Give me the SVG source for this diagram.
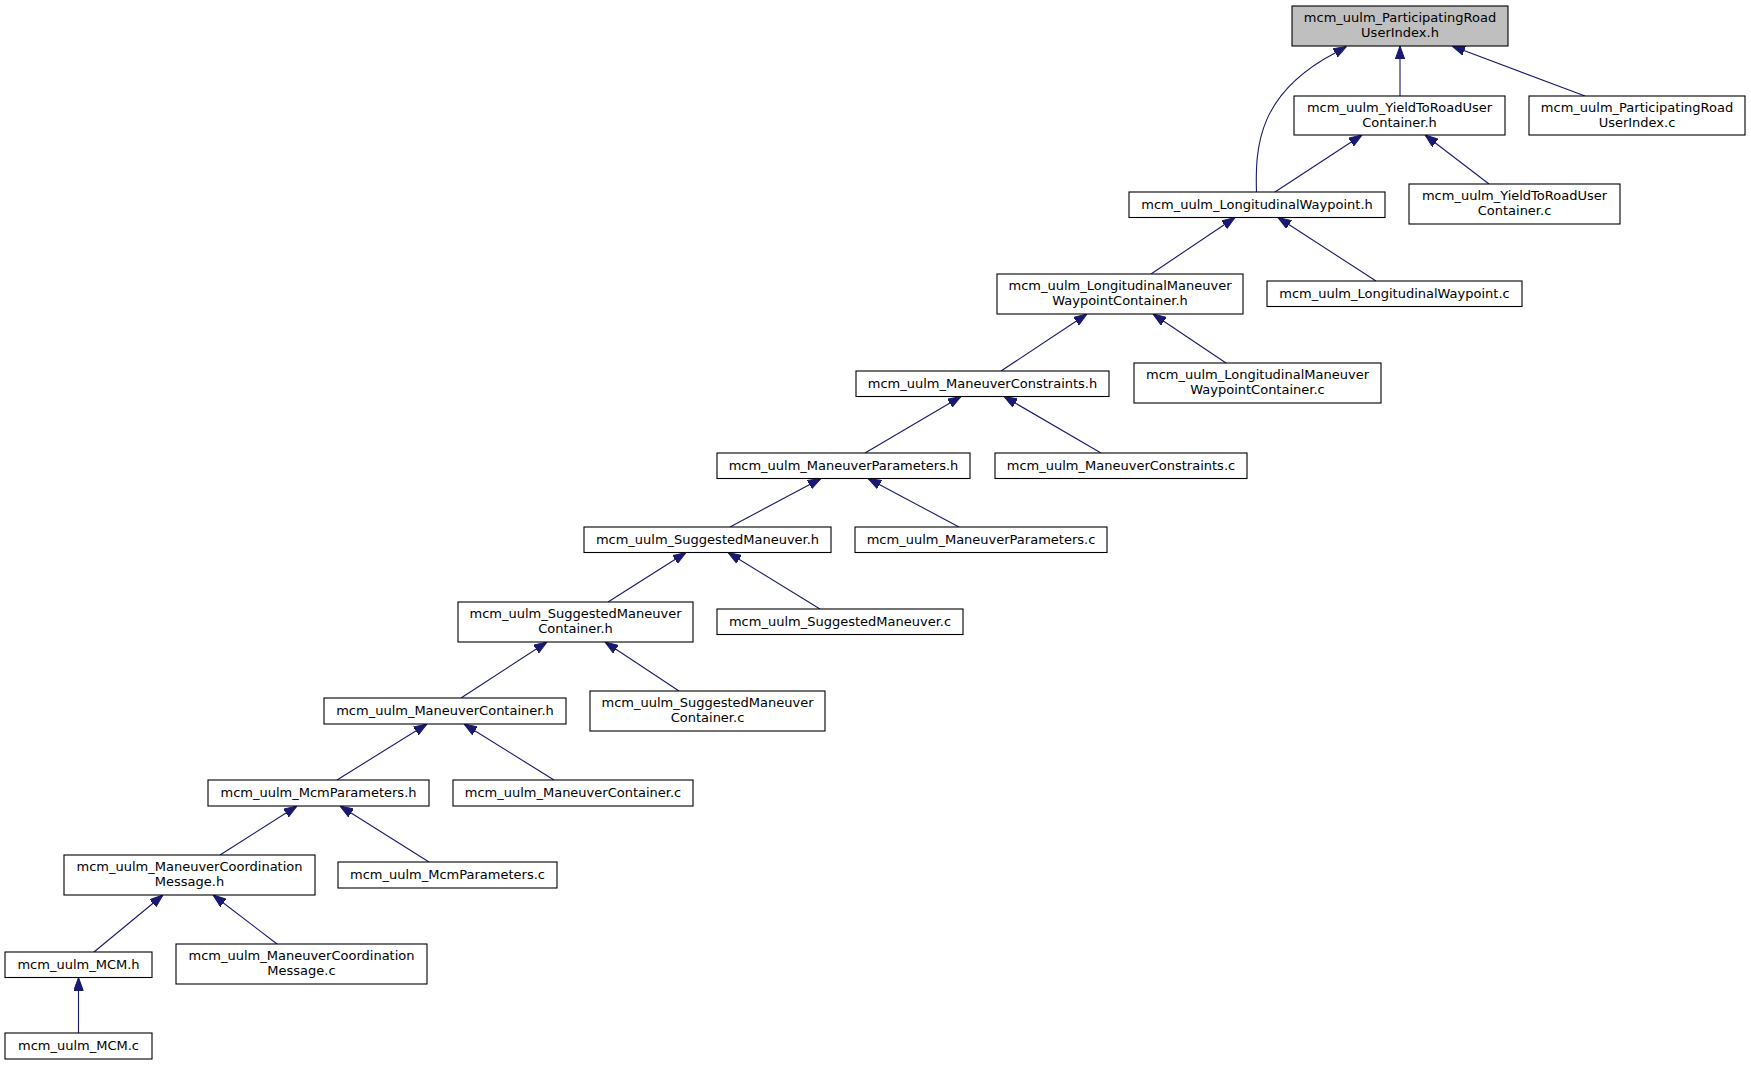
<svg xmlns="http://www.w3.org/2000/svg" width="1751" height="1065" viewBox="0 0 1751 1065">
<style>
.n rect{fill:#fff;stroke:#000;stroke-width:1.1}
.n.root rect{fill:#bfbfbf}
.n text{font-family:"DejaVu Sans",Verdana,sans-serif;font-size:13px;text-anchor:middle;fill:#000}
.e path{fill:none;stroke:#191970;stroke-width:1.1;marker-end:url(#arr)}
</style>
<defs>
<marker id="arr" viewBox="0 0 13 10" refX="13" refY="5" markerWidth="13" markerHeight="10" markerUnits="userSpaceOnUse" orient="auto">
<path d="M0,0.3 L13,5 L0,9.7 z" fill="#191970" stroke="#191970" stroke-width="1"/>
</marker>
</defs>
<rect width="1751" height="1065" fill="#fff"/>
<g id="edges" class="e">
<path d="M1256.5,192 C1255,145 1259,93 1335,53 L1346.5,46.5"/>
<path d="M1400,96 L1400,46"/>
<path d="M1585,96 L1452,46"/>
<path d="M1275,192 L1362,135"/>
<path d="M1489,184 L1425,135"/>
<path d="M1151,274 L1235,217.5"/>
<path d="M1376,281 L1278,217.5"/>
<path d="M1001,371 L1087,314"/>
<path d="M1226,363 L1153,314"/>
<path d="M865,453 L961,396.5"/>
<path d="M1101,453 L1004,396.5"/>
<path d="M730,527 L821,478.5"/>
<path d="M959,527 L868,478.5"/>
<path d="M608,602 L686,552.5"/>
<path d="M820,609 L728,552.5"/>
<path d="M461,698 L547,642"/>
<path d="M679,691 L605,642"/>
<path d="M337,780 L427,724"/>
<path d="M554,780 L464,724"/>
<path d="M220,855 L297,806"/>
<path d="M429,862 L340,806"/>
<path d="M94,952 L163,895"/>
<path d="M277,944 L213,895"/>
<path d="M78.5,1033 L78.5,977.5"/>
</g>
<g id="n1" class="n root"><rect x="1292" y="6" width="216" height="40"/><text x="1400" y="22">mcm_uulm_ParticipatingRoad</text><text x="1400" y="37">UserIndex.h</text></g>
<g id="n2" class="n"><rect x="1294" y="96" width="211" height="39"/><text x="1399.5" y="112">mcm_uulm_YieldToRoadUser</text><text x="1399.5" y="127">Container.h</text></g>
<g id="n3" class="n"><rect x="1529" y="96" width="216" height="39"/><text x="1637" y="112">mcm_uulm_ParticipatingRoad</text><text x="1637" y="127">UserIndex.c</text></g>
<g id="n4" class="n"><rect x="1129" y="192" width="256" height="25.5"/><text x="1257" y="208.5">mcm_uulm_LongitudinalWaypoint.h</text></g>
<g id="n5" class="n"><rect x="1409" y="184" width="211" height="40"/><text x="1514.5" y="200">mcm_uulm_YieldToRoadUser</text><text x="1514.5" y="215">Container.c</text></g>
<g id="n6" class="n"><rect x="997" y="274" width="246" height="40"/><text x="1120" y="290">mcm_uulm_LongitudinalManeuver</text><text x="1120" y="305">WaypointContainer.h</text></g>
<g id="n7" class="n"><rect x="1267" y="281" width="255" height="25.5"/><text x="1394.5" y="297.5">mcm_uulm_LongitudinalWaypoint.c</text></g>
<g id="n8" class="n"><rect x="856" y="371" width="253" height="25.5"/><text x="982.5" y="387.5">mcm_uulm_ManeuverConstraints.h</text></g>
<g id="n9" class="n"><rect x="1134" y="363" width="247" height="40"/><text x="1257.5" y="379">mcm_uulm_LongitudinalManeuver</text><text x="1257.5" y="394">WaypointContainer.c</text></g>
<g id="n10" class="n"><rect x="717" y="453" width="253" height="25.5"/><text x="843.5" y="469.5">mcm_uulm_ManeuverParameters.h</text></g>
<g id="n11" class="n"><rect x="995" y="453" width="252" height="25.5"/><text x="1121" y="469.5">mcm_uulm_ManeuverConstraints.c</text></g>
<g id="n12" class="n"><rect x="584" y="527" width="247" height="25.5"/><text x="707.5" y="543.5">mcm_uulm_SuggestedManeuver.h</text></g>
<g id="n13" class="n"><rect x="855" y="527" width="252" height="25.5"/><text x="981" y="543.5">mcm_uulm_ManeuverParameters.c</text></g>
<g id="n14" class="n"><rect x="458" y="602" width="235" height="40"/><text x="575.5" y="618">mcm_uulm_SuggestedManeuver</text><text x="575.5" y="633">Container.h</text></g>
<g id="n15" class="n"><rect x="717" y="609" width="246" height="25.5"/><text x="840" y="625.5">mcm_uulm_SuggestedManeuver.c</text></g>
<g id="n16" class="n"><rect x="324" y="698" width="242" height="26"/><text x="445" y="715">mcm_uulm_ManeuverContainer.h</text></g>
<g id="n17" class="n"><rect x="590" y="691" width="235" height="40"/><text x="707.5" y="707">mcm_uulm_SuggestedManeuver</text><text x="707.5" y="722">Container.c</text></g>
<g id="n18" class="n"><rect x="208" y="780" width="221" height="26"/><text x="318.5" y="797">mcm_uulm_McmParameters.h</text></g>
<g id="n19" class="n"><rect x="453" y="780" width="240" height="26"/><text x="573" y="797">mcm_uulm_ManeuverContainer.c</text></g>
<g id="n20" class="n"><rect x="64" y="855" width="251" height="40"/><text x="189.5" y="871">mcm_uulm_ManeuverCoordination</text><text x="189.5" y="886">Message.h</text></g>
<g id="n21" class="n"><rect x="338" y="862" width="219" height="26"/><text x="447.5" y="879">mcm_uulm_McmParameters.c</text></g>
<g id="n22" class="n"><rect x="5" y="952" width="147" height="25.5"/><text x="78.5" y="968.5">mcm_uulm_MCM.h</text></g>
<g id="n23" class="n"><rect x="176" y="944" width="251" height="40"/><text x="301.5" y="960">mcm_uulm_ManeuverCoordination</text><text x="301.5" y="975">Message.c</text></g>
<g id="n24" class="n"><rect x="5" y="1033" width="147" height="26"/><text x="78.5" y="1050">mcm_uulm_MCM.c</text></g>
</svg>
